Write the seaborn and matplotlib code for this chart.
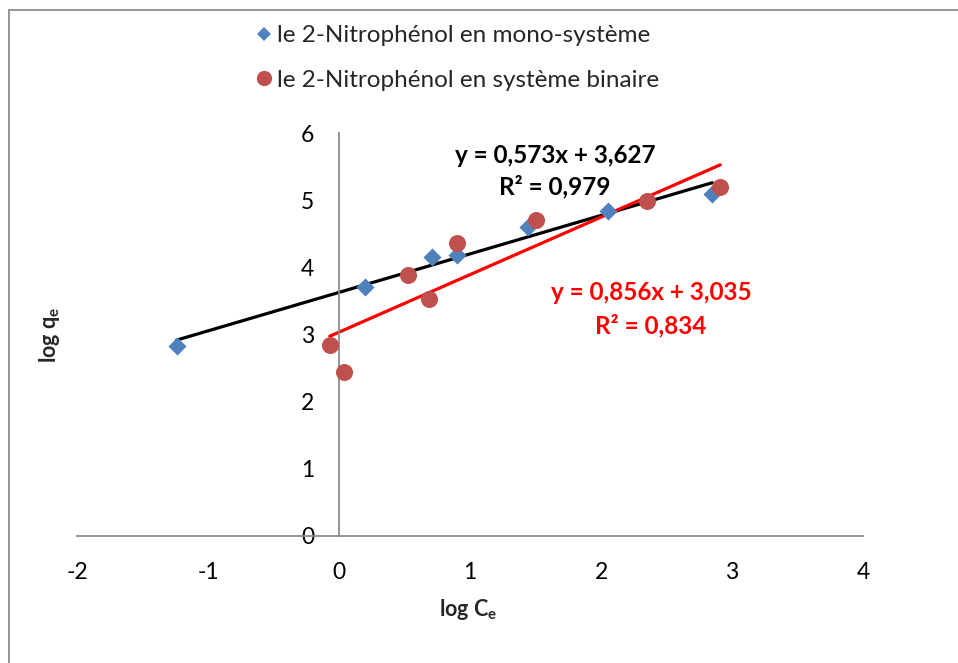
import numpy as np
import pandas as pd
import matplotlib
matplotlib.use("Agg")
import matplotlib.pyplot as plt
from matplotlib.lines import Line2D
import seaborn as sns

# ---- data ----
mono_x = [-1.24, 0.20, 0.71, 0.90, 1.44, 2.05, 2.85]
mono_y = [2.83, 3.71, 4.15, 4.18, 4.60, 4.84, 5.09]
bin_x = [-0.07, 0.04, 0.53, 0.69, 0.90, 1.50, 2.35, 2.91]
bin_y = [2.84, 2.44, 3.89, 3.53, 4.36, 4.70, 4.99, 5.20]
mono_fit = (0.573, 3.627)
bin_fit = (0.856, 3.035)
mono_label = "le 2-Nitrophénol en mono-système"
bin_label = "le 2-Nitrophénol en système binaire"
mono_eq = ["y = 0,573x + 3,627", "R² = 0,979"]
bin_eq = ["y = 0,856x + 3,035", "R² = 0,834"]
x_ticks = [-2, -1, 0, 1, 2, 3, 4]
y_ticks = [0, 1, 2, 3, 4, 5, 6]

sns.set_style("white")
plt.rcParams["font.family"] = ["Lato", "DejaVu Sans"]
plt.rcParams["mathtext.fontset"] = "custom"
plt.rcParams["mathtext.rm"] = "Lato"
plt.rcParams["mathtext.bf"] = "Lato:bold"

W, H = 958, 663
fig = plt.figure(figsize=(W / 100, H / 100), dpi=100)
ax = fig.add_axes([77 / W, 1 - 536 / H, (863 - 77) / W, (536 - 133) / H])

blue = "#4F81BD"
red = "#C0504D"

df_m = pd.DataFrame({"x": mono_x, "y": mono_y})
df_b = pd.DataFrame({"x": bin_x, "y": bin_y})

# trendlines
for xs, (a, b), col in [(mono_x, mono_fit, "black"), (bin_x, bin_fit, "#FF0000")]:
    lx = np.array([min(xs), max(xs)])
    d = pd.DataFrame({"x": lx, "y": a * lx + b})
    sns.lineplot(data=d, x="x", y="y", ax=ax, color=col, lw=2.3, zorder=2)

sns.scatterplot(data=df_m, x="x", y="y", ax=ax, marker="D", s=85, color=blue,
                edgecolor=blue, linewidth=0, zorder=3)
sns.scatterplot(data=df_b, x="x", y="y", ax=ax, marker="o", s=150, color=red,
                edgecolor=red, linewidth=0, zorder=3)

ax.set_xlim(-2, 4)
ax.set_ylim(0, 6)
ax.set_xticks(x_ticks)
ax.set_yticks(y_ticks)
ax.set_xticklabels([str(t) for t in x_ticks])
ax.set_yticklabels([str(t) for t in y_ticks])
for s in ["top", "right"]:
    ax.spines[s].set_visible(False)
ax.spines["left"].set_position(("data", 0))
ax.spines["bottom"].set_position(("data", 0))
for s in ["left", "bottom"]:
    ax.spines[s].set_color("#8C8C8C")
    ax.spines[s].set_linewidth(1.3)
ax.tick_params(axis="both", length=0, labelsize=16.5, colors="black")
ax.tick_params(axis="y", pad=18)
ax.tick_params(axis="x", pad=19)
ax.set_xlabel("")
ax.set_ylabel("")
ax.grid(False)

# axis titles
fig.text(468 / W, 1 - 610 / H, r"log C$_{\mathbf{e}}$", ha="center", va="center",
         fontsize=15.5, fontweight="bold")
fig.text(50 / W, 1 - 335 / H, r"log q$_{\mathbf{e}}$", ha="center", va="center",
         fontsize=15.5, fontweight="bold", rotation=90)

# equations
eq_fs = 17.5
fig.text(555 / W, 1 - 155 / H, mono_eq[0], ha="center", va="center",
         fontsize=eq_fs, fontweight="bold", color="black")
fig.text(555 / W, 1 - 187 / H, mono_eq[1], ha="center", va="center",
         fontsize=eq_fs, fontweight="bold", color="black")
fig.text(651 / W, 1 - 293 / H, bin_eq[0], ha="center", va="center",
         fontsize=eq_fs, fontweight="bold", color="#FF0000")
fig.text(651 / W, 1 - 326 / H, bin_eq[1], ha="center", va="center",
         fontsize=eq_fs, fontweight="bold", color="#FF0000")

# legend
handles = [
    Line2D([], [], marker="D", ls="", color=blue, markersize=7, markeredgewidth=0),
    Line2D([], [], marker="o", ls="", color=red, markersize=11, markeredgewidth=0),
]
fig.legend(handles, [mono_label, bin_label], loc="upper left",
           bbox_to_anchor=(245 / W, 1 - 13 / H), frameon=False, fontsize=17.5,
           handlelength=0.6, handletextpad=0.2, labelspacing=0.97, borderpad=0)

# chart border (top and left visible)
fig.add_artist(Line2D([9 / W, 9 / W], [0, 1 - 10 / H], color="#8C8C8C", lw=1.3,
                      transform=fig.transFigure))
fig.add_artist(Line2D([9 / W, 1], [1 - 10 / H, 1 - 10 / H], color="#8C8C8C", lw=1.3,
                      transform=fig.transFigure))

fig.savefig("out.png", dpi=100)
